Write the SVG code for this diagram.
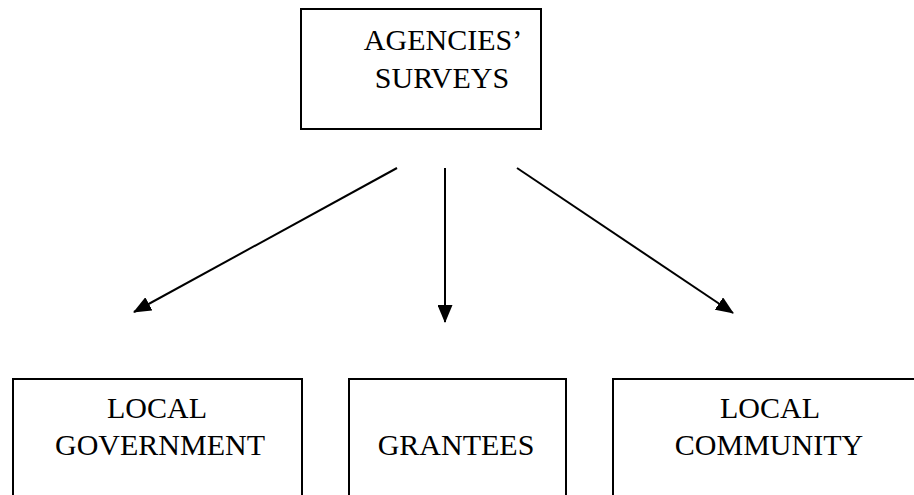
<svg xmlns="http://www.w3.org/2000/svg" width="914" height="495" viewBox="0 0 914 495">
<defs>
<style>
.box{fill:#fff;stroke:#000;stroke-width:2}
.t{font-family:"Liberation Serif","Times New Roman",Times,serif;font-size:30px;fill:#000;text-anchor:middle}
.c{stroke:#000;stroke-width:2;fill:none}
</style>
<marker id="ah" viewBox="0 0 18 15" refX="17" refY="7.5" markerWidth="18" markerHeight="15" markerUnits="userSpaceOnUse" orient="auto">
<path d="M0,0 L18,7.5 L0,15 Z" fill="#000"/>
</marker>
</defs>
<rect width="914" height="495" fill="#fff"/>
<g id="agencies">
<rect class="box" x="301" y="9" width="240" height="120"/>
<text class="t" font-family="Liberation Serif, serif" x="443" y="50">AGENCIES’</text>
<text class="t" font-family="Liberation Serif, serif" x="442" y="88">SURVEYS</text>
</g>
<g id="local-government">
<rect class="box" x="13" y="379" width="289" height="130"/>
<text class="t" font-family="Liberation Serif, serif" x="157" y="418">LOCAL</text>
<text class="t" font-family="Liberation Serif, serif" x="160" y="455">GOVERNMENT</text>
</g>
<g id="grantees">
<rect class="box" x="349" y="379" width="217" height="130"/>
<text class="t" font-family="Liberation Serif, serif" x="456" y="455">GRANTEES</text>
</g>
<g id="local-community">
<rect class="box" x="613" y="379" width="320" height="130"/>
<text class="t" font-family="Liberation Serif, serif" x="770" y="418">LOCAL</text>
<text class="t" font-family="Liberation Serif, serif" x="769" y="455">COMMUNITY</text>
</g>
<g id="connectors">
<line class="c" x1="397" y1="168" x2="134" y2="312" marker-end="url(#ah)"/>
<line class="c" x1="445" y1="168" x2="445" y2="322" marker-end="url(#ah)"/>
<line class="c" x1="517" y1="168" x2="733" y2="313" marker-end="url(#ah)"/>
</g>
</svg>
